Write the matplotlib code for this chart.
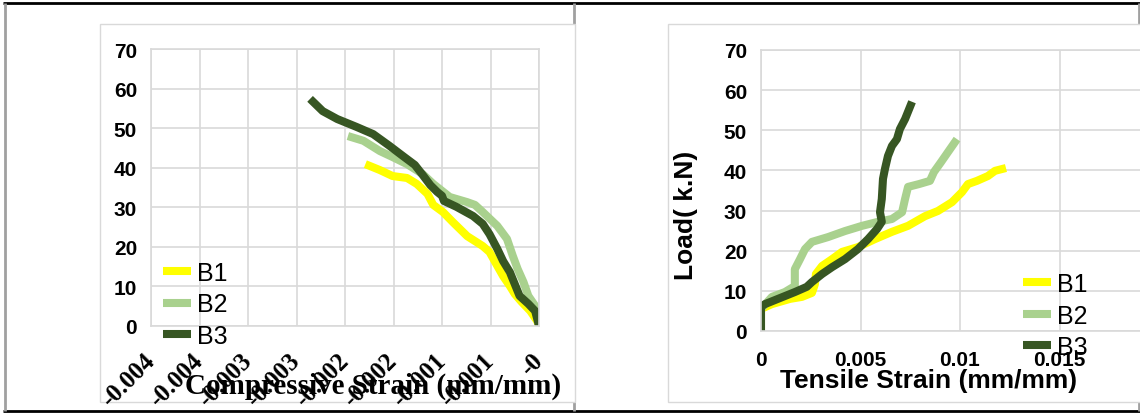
import matplotlib.pyplot as plt
from matplotlib.patches import Rectangle
from matplotlib.lines import Line2D

# compressive strain side (strain negative), load in kN
comp_b1_strain = [0.0, -0.00002, -0.00009, -0.00018, -0.00025, -0.00030, -0.00037, -0.00043, -0.00051,
                  -0.00058, -0.00074, -0.00089, -0.00099, -0.00109, -0.00115, -0.00126, -0.00136,
                  -0.00151, -0.00164, -0.00179]
comp_b1_load = [0.0, 1.3, 3.8, 6.1, 8.1, 10.1, 12.6, 15.2, 18.7, 20.2, 22.7, 26.3, 28.8, 30.6, 33.4,
                35.9, 37.4, 37.9, 39.4, 40.9]

comp_b2_strain = [0.0, -0.00001, -0.00004, -0.00011, -0.00016, -0.00022, -0.00027, -0.00033, -0.00043,
                  -0.00058, -0.00066, -0.00074, -0.00092, -0.00109, -0.00120, -0.00136, -0.00151,
                  -0.00164, -0.00181, -0.00197]
comp_b2_load = [0.0, 2.5, 5.1, 7.6, 11.1, 14.4, 17.7, 22.0, 25.3, 28.8, 30.6, 31.3, 32.6, 35.9, 38.4,
                40.9, 42.7, 44.2, 46.8, 48.0]

comp_b3_strain = [0.0, -0.00001, -0.00004, -0.00011, -0.00020, -0.00025, -0.00030, -0.00037, -0.00043,
                  -0.00051, -0.00058, -0.00068, -0.00085, -0.00098, -0.00100, -0.00105, -0.00112,
                  -0.00120, -0.00128, -0.00140, -0.00154, -0.00171, -0.00188, -0.00208, -0.00223,
                  -0.00236]
comp_b3_load = [0.0, 1.0, 3.8, 5.6, 7.6, 10.6, 13.6, 16.4, 19.5, 23.2, 25.8, 27.8, 30.1, 31.6, 32.9,
                33.9, 35.6, 38.2, 40.7, 42.9, 45.5, 48.5, 50.3, 52.3, 54.3, 57.4]

# tensile strain side
tens_b1_strain = [0.0, 0.0, 0.00055, 0.00146, 0.00206, 0.00256, 0.00271, 0.00276, 0.00307, 0.00357,
                  0.00407, 0.00487, 0.00573, 0.00658, 0.00739, 0.00824, 0.00889, 0.0096, 0.0101,
                  0.0104, 0.01085, 0.0114, 0.01176, 0.01231]
tens_b1_load = [0.0, 5.5, 6.7, 8.0, 8.5, 9.5, 11.7, 14.2, 16.2, 17.9, 19.7, 20.9, 22.9, 24.7, 26.2,
                28.6, 29.9, 32.1, 34.6, 36.6, 37.4, 38.6, 39.9, 40.6]

tens_b2_strain = [0.0, 0.0, 0.00055, 0.0012, 0.0017, 0.0017, 0.00196, 0.00221, 0.00256, 0.00337,
                  0.00422, 0.00508, 0.00588, 0.00658, 0.00709, 0.00724, 0.00739, 0.00794, 0.00849,
                  0.00869, 0.00905, 0.0094, 0.00985]
tens_b2_load = [0.0, 5.5, 8.5, 9.7, 11.2, 15.4, 17.9, 20.4, 22.2, 23.4, 24.9, 26.2, 27.2, 27.9, 29.6,
                32.9, 35.9, 36.6, 37.4, 39.6, 42.1, 44.6, 47.8]

tens_b3_strain = [0.0, 0.0, 0.0002, 0.00085, 0.0017, 0.0023, 0.00256, 0.00307, 0.00357, 0.00422,
                  0.00487, 0.00538, 0.00583, 0.00607, 0.00598, 0.00607, 0.00613, 0.00623, 0.00638,
                  0.00658, 0.00683, 0.00698, 0.00724, 0.00759]
tens_b3_load = [0.0, 6.0, 6.7, 8.0, 9.7, 11.0, 12.2, 14.2, 15.9, 17.9, 20.4, 22.9, 25.4, 27.2, 29.6,
                32.9, 37.9, 40.4, 43.6, 46.1, 47.8, 50.3, 52.8, 57.1]

series_names = ["B1", "B2", "B3"]
series_colors = ["#FFFF00", "#A9D18E", "#375623"]

load_ticks = [0, 10, 20, 30, 40, 50, 60, 70]
comp_ticks = [-0.004, -0.0035, -0.003, -0.0025, -0.002, -0.0015, -0.001, -0.0005, 0.0]
comp_tick_labels = ["-0.004", "-0.004", "-0.003", "-0.003", "-0.002", "-0.002", "-0.001", "-0.001", "-0"]
tens_ticks = [0.0, 0.005, 0.01, 0.015, 0.02]
tens_tick_labels = ["0", "0.005", "0.01", "0.015", "0.02"]

W, H = 1140, 414
SANS = "Liberation Sans"
SERIF = "Liberation Serif"
GRID = "#d9d9d9"


def fx(px):
    return px / W


def fy(py):
    return 1 - py / H


fig = plt.figure(figsize=(W / 100, H / 100), dpi=100)

# page frame: table borders and the two white chart panels
frame = dict(transform=fig.transFigure, zorder=-3, solid_capstyle="butt")
fig.add_artist(Line2D([fx(3), fx(1140)], [fy(4), fy(4)], color="black", lw=2.0, **frame))
fig.add_artist(Line2D([fx(3), fx(1140)], [fy(412), fy(412)], color="black", lw=2.0, **frame))
for xp in (5, 573.5, 1138.5):
    fig.add_artist(Line2D([fx(xp), fx(xp)], [fy(4), fy(412)], color="#a0a0a0", lw=2.0, **frame))

left_panel = Rectangle((fx(100), fy(403)), fx(475), 378 / H, transform=fig.transFigure,
                       facecolor="white", edgecolor=GRID, lw=1.0, zorder=-1)
right_panel = Rectangle((fx(668), fy(403)), fx(520), 378 / H, transform=fig.transFigure,
                        facecolor="white", edgecolor=GRID, lw=1.0, zorder=-1)
fig.add_artist(left_panel)
fig.add_artist(right_panel)
label_clip = Rectangle((fx(100), fy(410)), fx(475), 385 / H, transform=fig.transFigure)

ax1 = fig.add_axes([fx(151), fy(327), 388 / W, 277 / H])
ax2 = fig.add_axes([fx(761), fy(332), 398 / W, 281 / H])

comp = [(comp_b1_strain, comp_b1_load), (comp_b2_strain, comp_b2_load), (comp_b3_strain, comp_b3_load)]
tens = [(tens_b1_strain, tens_b1_load), (tens_b2_strain, tens_b2_load), (tens_b3_strain, tens_b3_load)]

for ax, data in ((ax1, comp), (ax2, tens)):
    for (x, y), name, c in zip(data, series_names, series_colors):
        ax.plot(x, y, color=c, lw=5.8, label=name, solid_capstyle="butt", solid_joinstyle="round")
    ax.set_ylim(0, 70)
    ax.set_yticks(load_ticks)
    ax.set_yticklabels([str(t) for t in load_ticks], fontfamily=SANS, fontweight="bold", fontsize=15)
    ax.grid(True, color=GRID, lw=1.2)
    ax.set_axisbelow(True)
    for s in ax.spines.values():
        s.set_color(GRID)
        s.set_linewidth(1.2)
    ax.tick_params(length=0)
    ax.tick_params(axis="y", pad=10)

ax1.set_xlim(-0.004, 0)
ax1.set_xticks(comp_ticks)
ax1.set_xticklabels(comp_tick_labels, fontfamily=SERIF, fontweight="bold", fontsize=18,
                    rotation=45, ha="right", va="center", rotation_mode="anchor")
ax1.tick_params(axis="x", pad=22)
for lab in ax1.get_xticklabels():
    lab.set_clip_path(label_clip)
ax1.set_xlabel("Compressive Strain (mm/mm)", fontfamily=SERIF, fontweight="bold", fontsize=21,
               va="center")
ax1.xaxis.set_label_coords(0.572, -0.213)

ax2.set_xlim(0, 0.02)
ax2.set_xticks(tens_ticks)
ax2.set_xticklabels(tens_tick_labels, fontfamily=SANS, fontweight="bold", fontsize=15)
ax2.tick_params(axis="x", pad=14)
ax2.set_xlabel("Tensile Strain (mm/mm)", fontfamily=SANS, fontweight="bold", fontsize=19, va="center")
ax2.xaxis.set_label_coords(0.42, -0.174)
ax2.set_ylabel("Load( k.N)", fontfamily=SANS, fontweight="bold", fontsize=19, va="center")
ax2.yaxis.set_label_coords(-0.188, 0.416)

leg_style = dict(frameon=False, loc="upper left", bbox_transform=fig.transFigure,
                 prop={"family": SANS, "size": 18}, handlelength=1.1, handletextpad=0.25,
                 labelspacing=0.3, borderpad=0, borderaxespad=0)
ax1.legend(bbox_to_anchor=(fx(163), fy(262)), **leg_style)
ax2.legend(bbox_to_anchor=(fx(1023), fy(273)), **leg_style)

fig.savefig("out.png", dpi=100)
